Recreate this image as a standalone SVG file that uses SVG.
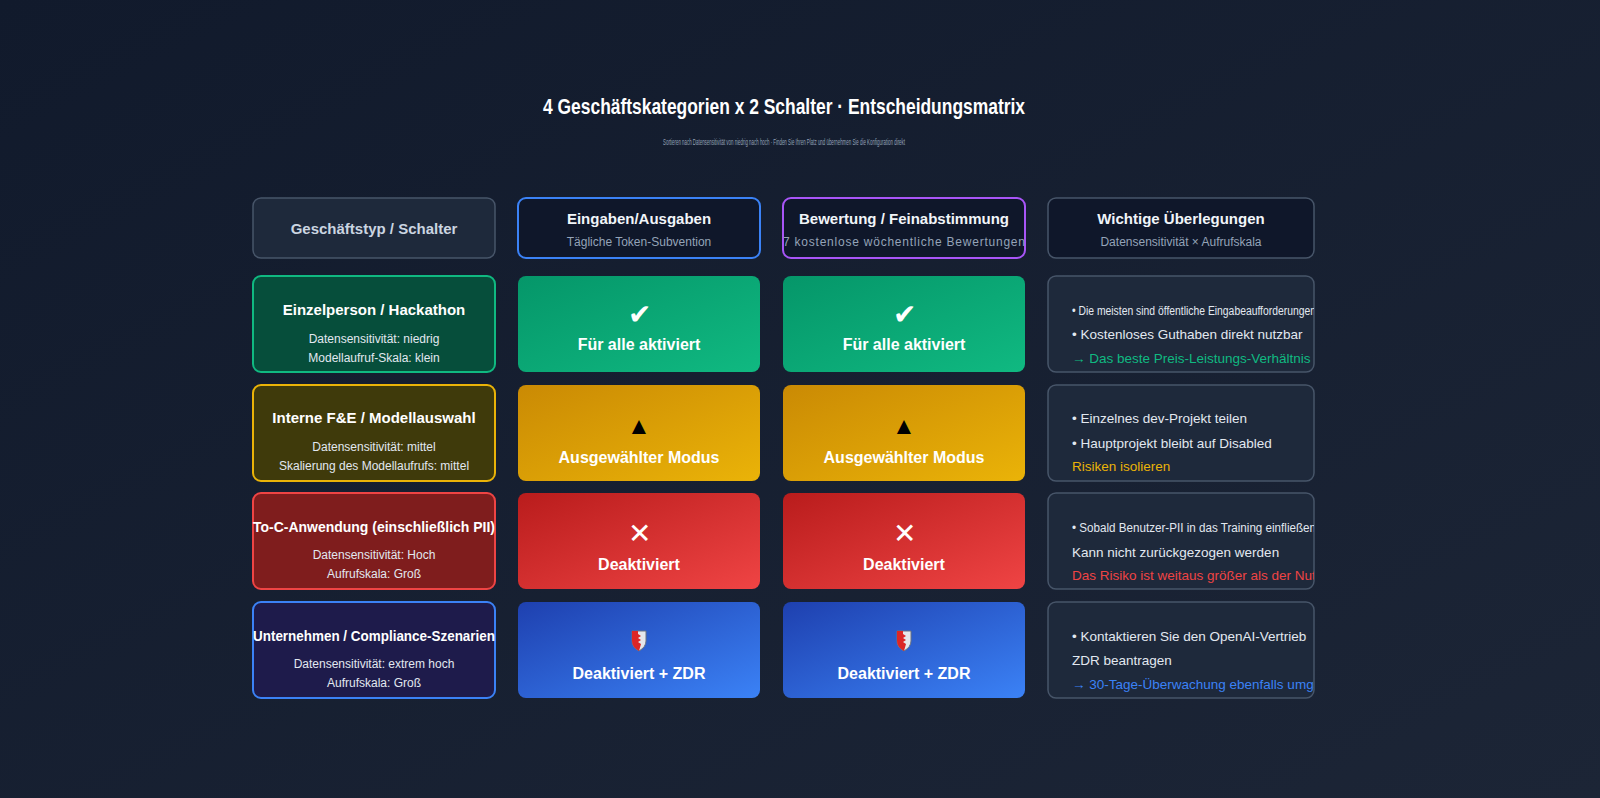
<svg xmlns="http://www.w3.org/2000/svg" width="1600" height="798" viewBox="0 0 1600 798">
<style>
text{font-family:"Liberation Sans",Arial,sans-serif;text-anchor:middle}
.h{font-size:15px;font-weight:bold;fill:#f1f5f9}
.hs{font-size:12px;fill:#94a3b8}
.rt{font-size:15px;font-weight:bold;fill:#fff}
.rs{font-size:12px;fill:#e2e8f0}
.ct{font-size:16px;font-weight:bold;fill:#fff}
.ic{font-size:28px;fill:#fff}
.n{font-size:13.5px;fill:#e2e8f0;text-anchor:start}
.nb{font-size:12px;fill:#e2e8f0;text-anchor:start}
.note{fill:#1e293b;stroke:#475569;stroke-width:1.5}
</style>
<defs>
<linearGradient id="bg" x1="0" y1="0" x2="1" y2="1"><stop offset="0" stop-color="#111a2c"/><stop offset="1" stop-color="#1c2536"/></linearGradient>
<linearGradient id="g" x1="0" y1="0" x2="1" y2="1"><stop offset="0" stop-color="#059669"/><stop offset="1" stop-color="#10b981"/></linearGradient>
<linearGradient id="y" x1="0" y1="0" x2="1" y2="1"><stop offset="0" stop-color="#ca8a04"/><stop offset="1" stop-color="#eab308"/></linearGradient>
<linearGradient id="r" x1="0" y1="0" x2="1" y2="1"><stop offset="0" stop-color="#b91c1c"/><stop offset="1" stop-color="#ef4444"/></linearGradient>
<linearGradient id="b" x1="0" y1="0" x2="1" y2="1"><stop offset="0" stop-color="#1e40af"/><stop offset="1" stop-color="#3b82f6"/></linearGradient>
<clipPath id="cp"><rect x="1048" y="0" width="266" height="798"/></clipPath>
<g id="shield"><path d="M-7,-9 L7,-9 L7,1 Q7,7 0,11 Q-7,7 -7,1 Z" fill="#e5e7eb" stroke="#6b7280" stroke-width="1"/><path d="M-7,-9 L-1,-9 L-1,-6 L2,-4 L-1,-2 L2,0 L-1,2 L2,4 L0,11 Q-7,7 -7,1 Z" fill="#dc2626"/></g>
</defs>
<rect width="1600" height="798" fill="url(#bg)"/>
<text x="784" y="114" style="font-size:22px;font-weight:bold;fill:#fff" textLength="482" lengthAdjust="spacingAndGlyphs">4 Geschäftskategorien x 2 Schalter · Entscheidungsmatrix</text>
<text x="784" y="145" style="font-size:9px;fill:#94a3b8" textLength="242" lengthAdjust="spacingAndGlyphs">Sortieren nach Datensensitivität von niedrig nach hoch · Finden Sie Ihren Platz und übernehmen Sie die Konfiguration direkt</text>

<g id="hdr0"><rect x="253" y="198" width="242" height="60" rx="8" fill="#1e293b" stroke="#475569" stroke-width="1.5"/><text class="h" x="374" y="234" style="fill:#cbd5e1">Geschäftstyp / Schalter</text></g>
<g id="hdr1"><rect x="518" y="198" width="242" height="60" rx="8" fill="#0f172a" stroke="#3b82f6" stroke-width="2"/><text class="h" x="639" y="224">Eingaben/Ausgaben</text><text class="hs" x="639" y="246">Tägliche Token-Subvention</text></g>
<g id="hdr2"><rect x="783" y="198" width="242" height="60" rx="8" fill="#0f172a" stroke="#a855f7" stroke-width="2"/><text class="h" x="904" y="224">Bewertung / Feinabstimmung</text><text class="hs" x="904" y="246" textLength="242">7 kostenlose wöchentliche Bewertungen</text></g>
<g id="hdr3"><rect x="1048" y="198" width="266" height="60" rx="8" fill="#0f172a" stroke="#475569" stroke-width="1.5"/><text class="h" x="1181" y="224">Wichtige Überlegungen</text><text class="hs" x="1181" y="246">Datensensitivität × Aufrufskala</text></g>

<g id="row1">
<rect x="253" y="276" width="242" height="96" rx="8" fill="#064e3b" stroke="#10b981" stroke-width="2"/>
<text class="rt" x="374" y="315">Einzelperson / Hackathon</text><text class="rs" x="374" y="343">Datensensitivität: niedrig</text><text class="rs" x="374" y="362">Modellaufruf-Skala: klein</text>
<rect x="518" y="276" width="242" height="96" rx="8" fill="url(#g)"/><text class="ic" x="639" y="324">✔</text><text class="ct" x="639" y="350">Für alle aktiviert</text>
<rect x="783" y="276" width="242" height="96" rx="8" fill="url(#g)"/><text class="ic" x="904" y="324">✔</text><text class="ct" x="904" y="350">Für alle aktiviert</text>
<rect class="note" x="1048" y="276" width="266" height="96" rx="8"/>
<g clip-path="url(#cp)"><text class="nb" x="1072" y="315" textLength="244" lengthAdjust="spacingAndGlyphs">• Die meisten sind öffentliche Eingabeaufforderungen</text><text class="n" x="1072" y="339">• Kostenloses Guthaben direkt nutzbar</text><text class="n" x="1072" y="363" style="fill:#10b981">→ Das beste Preis-Leistungs-Verhältnis</text></g>
</g>
<g id="row2">
<rect x="253" y="385" width="242" height="96" rx="8" fill="#3f3a0b" stroke="#eab308" stroke-width="2"/>
<text class="rt" x="374" y="423">Interne F&amp;E / Modellauswahl</text><text class="rs" x="374" y="451">Datensensitivität: mittel</text><text class="rs" x="374" y="470">Skalierung des Modellaufrufs: mittel</text>
<rect x="518" y="385" width="242" height="96" rx="8" fill="url(#y)"/><text class="ic" x="639" y="434" style="fill:#000;font-size:24px">▲</text><text class="ct" x="639" y="463">Ausgewählter Modus</text>
<rect x="783" y="385" width="242" height="96" rx="8" fill="url(#y)"/><text class="ic" x="904" y="434" style="fill:#000;font-size:24px">▲</text><text class="ct" x="904" y="463">Ausgewählter Modus</text>
<rect class="note" x="1048" y="385" width="266" height="96" rx="8"/>
<g clip-path="url(#cp)"><text class="n" x="1072" y="423">• Einzelnes dev-Projekt teilen</text><text class="n" x="1072" y="448">• Hauptprojekt bleibt auf Disabled</text><text class="n" x="1072" y="471" style="fill:#eab308">Risiken isolieren</text></g>
</g>
<g id="row3">
<rect x="253" y="493" width="242" height="96" rx="8" fill="#7f1d1d" stroke="#ef4444" stroke-width="2"/>
<text class="rt" x="374" y="532" textLength="242" lengthAdjust="spacingAndGlyphs">To-C-Anwendung (einschließlich PII)</text><text class="rs" x="374" y="559">Datensensitivität: Hoch</text><text class="rs" x="374" y="578">Aufrufskala: Groß</text>
<rect x="518" y="493" width="242" height="96" rx="8" fill="url(#r)"/><text class="ic" x="639" y="543">✕</text><text class="ct" x="639" y="570">Deaktiviert</text>
<rect x="783" y="493" width="242" height="96" rx="8" fill="url(#r)"/><text class="ic" x="904" y="543">✕</text><text class="ct" x="904" y="570">Deaktiviert</text>
<rect class="note" x="1048" y="493" width="266" height="96" rx="8"/>
<g clip-path="url(#cp)"><text class="nb" x="1072" y="532" textLength="244" lengthAdjust="spacingAndGlyphs">• Sobald Benutzer-PII in das Training einfließen</text><text class="n" x="1072" y="557">Kann nicht zurückgezogen werden</text><text class="n" x="1072" y="580" style="fill:#ef4444">Das Risiko ist weitaus größer als der Nutzen</text></g>
</g>
<g id="row4">
<rect x="253" y="602" width="242" height="96" rx="8" fill="#1e1b4b" stroke="#3b82f6" stroke-width="2"/>
<text class="rt" x="374" y="641" textLength="242" lengthAdjust="spacingAndGlyphs">Unternehmen / Compliance-Szenarien</text><text class="rs" x="374" y="668">Datensensitivität: extrem hoch</text><text class="rs" x="374" y="687">Aufrufskala: Groß</text>
<rect x="518" y="602" width="242" height="96" rx="8" fill="url(#b)"/><use href="#shield" x="639" y="640"/><text class="ct" x="639" y="679">Deaktiviert + ZDR</text>
<rect x="783" y="602" width="242" height="96" rx="8" fill="url(#b)"/><use href="#shield" x="904" y="640"/><text class="ct" x="904" y="679">Deaktiviert + ZDR</text>
<rect class="note" x="1048" y="602" width="266" height="96" rx="8"/>
<g clip-path="url(#cp)"><text class="n" x="1072" y="641">• Kontaktieren Sie den OpenAI-Vertrieb</text><text class="n" x="1072" y="665">ZDR beantragen</text><text class="n" x="1072" y="689" style="fill:#3b82f6">→ 30-Tage-Überwachung ebenfalls umgangen</text></g>
</g>
<g id="connectors"/>
</svg>
